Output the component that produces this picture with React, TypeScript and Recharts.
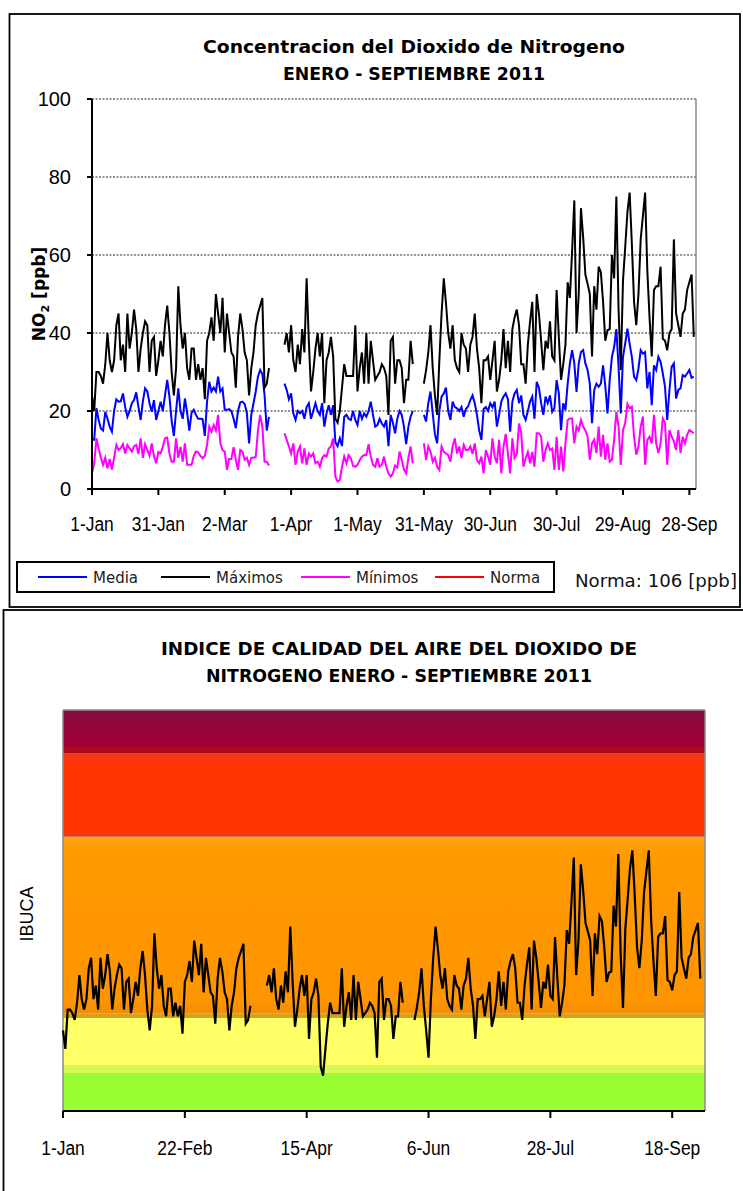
import React from "react";
import {
  LineChart, Line, XAxis, YAxis, CartesianGrid, ReferenceLine, ReferenceArea,
} from "recharts";

const _ = null;

// dias desde el 1-Jan (0..272)
const TOP_TICK_DAYS = [0, 30, 60, 90, 120, 150, 180, 210, 240, 270];
const TOP_TICK_LABELS = ["1-Jan", "31-Jan", "2-Mar", "1-Apr", "1-May", "31-May", "30-Jun", "30-Jul", "29-Aug", "28-Sep"];
const Y_TICKS = [0, 20, 40, 60, 80, 100];
const BOTTOM_TICK_DAYS = [0, 52, 104, 156, 208, 260];
const BOTTOM_TICK_LABELS = ["1-Jan", "22-Feb", "15-Apr", "6-Jun", "28-Jul", "18-Sep"];

const MEDIA = [
  12.6, 12.6, 20.7, 17.7, 15.5, 15, 19.8, 18, 16, 14.7,
  20, 23, 22.4, 22.5, 24.5, 21, 18.5, 20, 22, 22.8,
  24.8, 21, 17.7, 22.5, 25.8, 25, 22, 19.8, 22.8, 17.7,
  20, 22.4, 20, 24, 28, 23.7, 17.5, 13.6, 20, 25.8,
  20, 18, 23.2, 19.5, 15, 19.5, 20.3, 19, 18, 18,
  17.9, 13.6, 22.4, 27.5, 25, 26, 25, 28.8, 25, 25.8,
  20.3, 20.3, 20.5, 20, 18, 15.6, 20, 22.2, 22.4, 21.8,
  19.5, 11.7, 19, 22, 25, 28.8, 30.5, 29.5, 24, 15,
  18.5, _, _, _, _, _, _, 27, 25.4, 23,
  24.5, 19.4, 17.7, 20, 19.4, 20, 18, 21, 22, 18,
  20, 22, 20, 19, 22, 16, 19.4, 21.5, 19, 21.5,
  12, 11, 13, 11, 18.5, 19, 18, 17.7, 20, 17.7,
  16.4, 20, 18, 19.4, 18.5, 20, 22.4, 19, 16, 16.4,
  18, 16.8, 16, 17.7, 11, 19, 17, 14.3, 18, 20,
  19, 16, 11.5, 16, 18.5, 20, _, _, _, _,
  19, 17.3, 22, 25, 19.4, 14, 11.7, 20, 23.7, 24.5,
  26, 20, 17.7, 22.4, 21, 20.7, 20, 21, 18.5, 20.5,
  21.2, 22.8, 24, 22, 19, 15, 12.6, 20.5, 21, 20,
  22, 21, 22.4, 16, 19, 22.4, 23.7, 24.5, 23, 14.7,
  22.4, 24.5, 25.4, 22, 24, 19, 17.7, 20, 22.4, 23.7,
  18, 27.5, 26, 22, 19, 23.7, 22, 24, 19.8, 20.7,
  27.9, 24.5, 15.1, 22, 20.3, 27, 32.2, 35.6, 32.2, 24.9,
  32.2, 35.1, 35.6, 32.2, 30.5, 27, 16.9, 25.4, 27, 26.2,
  27, 31.7, 26.4, 19.4, 27.9, 33.9, 36.4, 41, 31.3, 19.4,
  33.9, 37.3, 41.1, 37.3, 33.9, 28.8, 27.9, 30.9, 35.6, 34.7,
  35.1, 25.8, 30, 21.5, 31.7, 30.5, 33.9, 32.6, 29.6, 26.2,
  17.7, 25.4, 31.3, 32.2, 23.2, 25.4, 25.8, 29.2, 28.8, 29.6,
  30.5, 28.5, 28.8,
];

const MAXIMOS = [
  24, 20, 30, 30, 29, 27, 32, 40, 33, 30,
  33, 42, 45, 33, 37, 30, 45, 36, 40, 46,
  41, 30, 36, 40, 43, 42, 30, 38, 39, 29,
  33, 38, 34, 42, 47, 40, 30, 24, 31, 52,
  42, 36, 40, 31, 28, 36, 36, 28, 32, 28,
  31, 23, 38, 40, 44, 38, 50, 45, 40, 49,
  35, 45, 40, 35, 34, 26, 39, 45, 41, 35,
  33, 24, 31, 35, 42, 45, 47, 49, 26, 27,
  31, _, _, _, _, _, _, 37, 40, 35,
  42, 33, 30, 37, 32, 41, 35, 54, 38, 25,
  30, 36, 40, 34, 40, 22, 33, 35, 39, 34,
  18, 17, 20, 26, 32, 29, 29, 29, 29, 42,
  25, 31, 35, 27, 40, 27, 38, 33, 28, 29,
  30, 32, 31, 29, 19, 38, 39, 27, 33, 33,
  31, 22, 28, 28, 38, 32, _, _, _, _,
  27, 30.5, 35, 42, 31, 24, 19, 33, 45, 54,
  47.6, 40, 36, 42, 33, 31, 30, 40, 37, 36,
  30, 37, 39, 45, 36, 31, 22, 33, 33, 34,
  28, 33, 38, 25, 28, 33, 41, 31, 38, 30,
  41, 44, 46, 42, 32, 32, 27, 37, 43, 48,
  30, 50, 45, 38, 30.5, 38, 36, 43, 34, 33,
  51, 39, 28, 32, 37, 53, 49, 61, 74, 40,
  50, 72, 64.5, 55, 52.6, 50, 34, 52, 46, 57,
  55.6, 48, 38, 40.7, 41, 60, 54, 75, 46, 30.5,
  53.4, 62, 71, 76, 63, 48, 42, 50, 64, 70,
  76, 56, 44, 34, 51, 52, 52, 57, 38.5, 38,
  35.6, 40, 41, 64, 45, 42, 39, 45, 46, 51,
  53, 55, 39,
];

const MINIMOS = [
  4, 6.6, 13, 10.4, 8, 6.2, 8, 5.3, 7.7, 5,
  8, 11.3, 10, 10.5, 11.5, 9.1, 11.3, 10.4, 9.6, 11,
  11.3, 9, 13, 8, 11.5, 10, 8.5, 11.7, 8.5, 6.6,
  9.5, 9.1, 10.8, 13, 13.2, 9.1, 7, 7, 13, 8,
  10.8, 7, 11.7, 6.2, 6.2, 6.2, 8.5, 9.6, 9.4, 8.5,
  7.9, 8.5, 11.3, 16, 14.7, 16.4, 15, 19, 11.7, 10,
  9.6, 4.9, 7.7, 7.7, 10.7, 7.5, 4.9, 10, 9.6, 7.5,
  8, 6.2, 8, 8, 8.2, 15, 19, 16, 7, 7,
  6, _, _, _, _, _, _, 14.3, 12.6, 10.9,
  9.1, 11.7, 6.2, 9.6, 10.9, 6.6, 10.4, 6.2, 9.1, 8.3,
  9.1, 6.6, 7, 5.7, 7.9, 8.7, 8.3, 10.4, 10.9, 13,
  3.2, 1.9, 2.3, 5.7, 8.3, 6.6, 8.7, 7.9, 5.9, 5.7,
  6.2, 7.4, 8.3, 8.7, 8.7, 11.5, 8.3, 6.2, 5.7, 7.9,
  5.7, 6.2, 8.3, 5.7, 4, 3.2, 4, 6, 5.5, 9.6,
  7.5, 5, 4, 8, 10.9, 6.6, _, _, _, _,
  11.7, 7.4, 10.9, 9.6, 7, 8, 5.7, 4.9, 10.9, 9.6,
  9.1, 8.7, 7, 10.9, 13, 9.1, 10.9, 7.9, 11.3, 10,
  10, 10.9, 9, 11.7, 7.4, 6.6, 8.3, 4, 10, 8.3,
  6.2, 13, 8.3, 6.6, 12.6, 4, 10.9, 14.1, 9, 4,
  13, 8, 9, 16.8, 14.3, 5.7, 7.9, 9.5, 6.6, 9.5,
  5.7, 14.3, 14.3, 13.4, 7, 10, 11.7, 10, 10.4, 4.9,
  13.4, 4.9, 10.9, 4.5, 11.7, 17.7, 18.1, 18.1, 11.7, 16,
  15, 17.7, 16, 15, 13.4, 7.5, 11.7, 12.6, 9.2, 16,
  8.3, 13.9, 7.5, 11.7, 7, 7.5, 12.6, 19.8, 16, 6.2,
  15.1, 16.9, 21.8, 20.7, 21.1, 13.4, 8.8, 10.9, 16, 18.6,
  6.2, 12.6, 13.4, 11.7, 19, 11.7, 9.2, 11.7, 18.1, 16.9,
  6.2, 15.1, 13.4, 12.2, 10, 15.1, 9.2, 13.4, 11.7, 13.9,
  15.1, 14.7, 14.3,
];

// IBUCA diario (escala del grafico inferior, 0..100 de alto)
const IBUCA = [
  20.1, 15.5, 25.3, 25.3, 24.4, 22.7, 27.0, 33.9, 27.9, 25.3,
  27.9, 35.6, 38.2, 27.9, 31.3, 25.3, 38.2, 30.5, 33.9, 39.1,
  34.8, 25.3, 30.5, 33.9, 36.5, 35.6, 25.3, 32.2, 33.0, 24.4,
  27.9, 32.2, 28.7, 35.6, 39.9, 33.9, 25.3, 20.1, 26.2, 44.3,
  35.6, 30.5, 33.9, 26.2, 23.6, 30.5, 30.5, 23.6, 27.0, 23.6,
  26.2, 19.3, 32.2, 33.9, 37.4, 32.2, 42.5, 38.2, 33.9, 41.7,
  29.6, 38.2, 33.9, 29.6, 28.7, 21.8, 33.0, 38.2, 34.8, 29.6,
  27.9, 20.1, 26.2, 29.6, 35.6, 38.2, 39.9, 41.7, 21.8, 22.7,
  26.2, _, _, _, _, _, _, 31.3, 33.9, 29.6,
  35.6, 27.9, 25.3, 31.3, 27.0, 34.8, 29.6, 46.0, 32.2, 21.0,
  25.3, 30.5, 33.9, 28.7, 33.9, 18.0, 27.9, 29.6, 33.0, 28.7,
  11.0, 8.8, 15.5, 21.8, 27.0, 24.4, 24.4, 24.4, 24.4, 35.6,
  21.0, 26.2, 29.6, 22.7, 33.9, 22.7, 32.2, 27.9, 23.6, 24.4,
  25.3, 27.0, 26.2, 24.4, 13.3, 32.2, 33.0, 22.7, 27.9, 27.9,
  26.2, 18.0, 23.6, 23.6, 32.2, 27.0, _, _, _, _,
  22.7, 25.7, 29.6, 35.6, 26.2, 20.1, 13.3, 27.9, 38.2, 46.0,
  40.4, 33.9, 30.5, 35.6, 27.9, 26.2, 25.3, 33.9, 31.3, 30.5,
  25.3, 31.3, 33.0, 38.2, 30.5, 26.2, 18.0, 27.9, 27.9, 28.7,
  23.6, 27.9, 32.2, 21.0, 23.6, 27.9, 34.8, 26.2, 32.2, 25.3,
  34.8, 37.4, 39.1, 35.6, 27.0, 27.0, 22.7, 31.3, 36.5, 40.8,
  25.3, 42.5, 38.2, 32.2, 25.7, 32.2, 30.5, 36.5, 28.7, 27.9,
  43.4, 33.0, 23.6, 27.0, 31.3, 45.1, 41.7, 52.0, 63.2, 33.9,
  42.5, 61.5, 55.0, 46.9, 44.8, 42.5, 28.7, 44.3, 39.1, 48.6,
  47.4, 40.8, 32.2, 34.5, 34.8, 51.2, 46.0, 64.1, 39.1, 25.7,
  45.5, 52.9, 60.6, 65.0, 53.7, 40.8, 35.6, 42.5, 54.6, 59.8,
  65.0, 47.7, 37.4, 28.7, 43.4, 44.3, 44.3, 48.6, 32.6, 32.2,
  30.1, 33.9, 34.8, 54.6, 38.2, 35.6, 33.0, 38.2, 39.1, 43.4,
  45.1, 46.9, 33.0,
];

// franjas de calidad del aire (de abajo hacia arriba)
const BAND_LIMITS = [0, 9.5, 11.5, 23.2, 24.4, 68.4, 69.3, 89.3, 90.8, 100];
const BAND_FILLS = ["#99FF33", "#D6F955", "#FFFF66", "#D8A020", "url(#orangeGrad)", "#D94412", "url(#redGrad)", "#AE0A1A", "url(#maroonGrad)"];

const LEGEND_NAMES = ["Media", "Máximos", "Mínimos", "Norma"];
const LEGEND_COLORS = ["#0000FF", "#000000", "#FF00FF", "#FF0000"];
const LEGEND_X = [38, 161, 301, 435];

const topRows = MEDIA.map((m, i) => ({ day: i, media: m, maximos: MAXIMOS[i], minimos: MINIMOS[i] }));
const bottomRows = IBUCA.map((v, i) => ({ day: i, ibuca: v }));

const TICK_FONT = "'Liberation Sans', Arial, sans-serif";
const GOTHIC = "'DejaVu Sans', Verdana, sans-serif";

const makeXTick = (days: number[], labels: string[]) => (props: any) => {
  const { x, y, payload } = props;
  const idx = days.indexOf(payload.value);
  return (
    <g transform={`translate(${x},${y}) scale(0.87,1)`}>
      <text x={0} y={0} dy="0.71em" textAnchor="middle" fontSize={20} fontFamily={TICK_FONT} fill="#000">
        {labels[idx]}
      </text>
    </g>
  );
};

const renderYTick = (props: any) => {
  const { x, y, payload } = props;
  return (
    <text x={x} y={y} dy="0.355em" textAnchor="end" fontSize={20} fontFamily={TICK_FONT} fill="#000">
      {payload.value}
    </text>
  );
};

function TopChart() {
  return (
    <LineChart width={743} height={610} data={topRows} margin={{ top: 99, right: 47, bottom: 81, left: 32 }}>
      <CartesianGrid vertical={false} stroke="#6f6f6f" strokeDasharray="2 1.5" strokeWidth={1.3} />
      <XAxis
        type="number" dataKey="day" domain={[0, 273]} ticks={TOP_TICK_DAYS} interval={0}
        height={40} tickSize={6} tickMargin={22}
        axisLine={{ stroke: "#000", strokeWidth: 2 }} tickLine={{ stroke: "#000", strokeWidth: 2 }}
        tick={makeXTick(TOP_TICK_DAYS, TOP_TICK_LABELS)}
      />
      <YAxis
        domain={[0, 100]} ticks={Y_TICKS} interval={0} width={60} tickSize={5} tickMargin={16}
        axisLine={{ stroke: "#000", strokeWidth: 2 }} tickLine={{ stroke: "#000", strokeWidth: 2 }}
        tick={renderYTick}
      />
      <ReferenceLine x={273} stroke="#8a8a8a" strokeWidth={1.5} />
      <Line type="linear" dataKey="media" stroke="#0000FF" strokeWidth={2} dot={false} isAnimationActive={false} />
      <Line type="linear" dataKey="maximos" stroke="#000000" strokeWidth={2} dot={false} isAnimationActive={false} />
      <Line type="linear" dataKey="minimos" stroke="#FF00FF" strokeWidth={2} dot={false} isAnimationActive={false} />
    </LineChart>
  );
}

function BottomChart() {
  return (
    <LineChart width={743} height={591} data={bottomRows} margin={{ top: 110, right: 38, bottom: 40, left: 63 }}>
      <defs>
        <linearGradient id="maroonGrad" x1="0" y1="0" x2="0" y2="1">
          <stop offset="0" stopColor="#870C40" />
          <stop offset="1" stopColor="#A20036" />
        </linearGradient>
        <linearGradient id="redGrad" x1="0" y1="0" x2="0" y2="1">
          <stop offset="0" stopColor="#F23A1C" />
          <stop offset="0.15" stopColor="#FF3300" />
          <stop offset="1" stopColor="#FF3300" />
        </linearGradient>
        <linearGradient id="orangeGrad" x1="0" y1="0" x2="0" y2="1">
          <stop offset="0" stopColor="#FFA216" />
          <stop offset="0.1" stopColor="#FF9A00" />
          <stop offset="0.93" stopColor="#FF9500" />
          <stop offset="1" stopColor="#F08E08" />
        </linearGradient>
      </defs>
      {BAND_FILLS.map((fill, i) => (
        <ReferenceArea key={i} y1={BAND_LIMITS[i]} y2={BAND_LIMITS[i + 1]} fill={fill} fillOpacity={1} stroke="none" />
      ))}
      <XAxis
        type="number" dataKey="day" domain={[0, 274]} ticks={BOTTOM_TICK_DAYS} interval={0}
        height={40} tickSize={7} tickMargin={23}
        axisLine={{ stroke: "#000", strokeWidth: 2 }} tickLine={{ stroke: "#000", strokeWidth: 2 }}
        tick={makeXTick(BOTTOM_TICK_DAYS, BOTTOM_TICK_LABELS)}
      />
      <YAxis hide domain={[0, 100]} />
      <ReferenceLine x={0} stroke="#8a8a8a" strokeWidth={1.5} />
      <ReferenceLine x={274} stroke="#8a8a8a" strokeWidth={1.5} />
      <ReferenceLine y={100} stroke="#8a8a8a" strokeWidth={1.5} />
      <Line type="linear" dataKey="ibuca" stroke="#000000" strokeWidth={2.2} dot={false} isAnimationActive={false} />
    </LineChart>
  );
}

function Overlay() {
  return (
    <svg width={743} height={1191} style={{ position: "absolute", left: 0, top: 0, pointerEvents: "none" }}>
      <rect x={9.5} y={14} width={730.5} height={593} fill="none" stroke="#000" strokeWidth={1.8} />
      <rect x={3.5} y={610} width={745} height={590} fill="none" stroke="#000" strokeWidth={1.8} />

      <text x={414} y={53} textAnchor="middle" fontFamily={GOTHIC} fontWeight="bold" fontSize={18}
        textLength={422} lengthAdjust="spacingAndGlyphs">Concentracion del Dioxido de Nitrogeno</text>
      <text x={414} y={80} textAnchor="middle" fontFamily={GOTHIC} fontWeight="bold" fontSize={18}
        textLength={262} lengthAdjust="spacingAndGlyphs">ENERO - SEPTIEMBRE  2011</text>

      <text transform="translate(45,294) rotate(-90)" textAnchor="middle" fontFamily={GOTHIC} fontWeight="bold" fontSize={17}>
        NO<tspan fontSize={11} dy={4}>2</tspan><tspan dy={-4}> [ppb]</tspan>
      </text>

      <rect x={17} y={562} width={537} height={30} fill="#fff" stroke="#000" strokeWidth={2} />
      {LEGEND_NAMES.map((name, i) => (
        <g key={name}>
          <line x1={LEGEND_X[i]} x2={LEGEND_X[i] + 49} y1={577} y2={577} stroke={LEGEND_COLORS[i]} strokeWidth={2} />
          <text x={LEGEND_X[i] + 55} y={582.5} fontFamily={GOTHIC} fontSize={15} fill="#222">{name}</text>
        </g>
      ))}
      <text x={575} y={587} fontFamily={GOTHIC} fontSize={17} fill="#111"
        textLength={162} lengthAdjust="spacingAndGlyphs">Norma: 106 [ppb]</text>

      <text x={399} y={655} textAnchor="middle" fontFamily={GOTHIC} fontWeight="bold" fontSize={18}
        textLength={476} lengthAdjust="spacingAndGlyphs">INDICE DE CALIDAD DEL AIRE  DEL DIOXIDO DE</text>
      <text x={399} y={682} textAnchor="middle" fontFamily={GOTHIC} fontWeight="bold" fontSize={18}
        textLength={386} lengthAdjust="spacingAndGlyphs">NITROGENO  ENERO - SEPTIEMBRE 2011</text>

      <text transform="translate(33,914) rotate(-90)" textAnchor="middle" fontFamily={TICK_FONT} fontSize={18} fill="#000">IBUCA</text>
    </svg>
  );
}

export default function App() {
  return (
    <div style={{ position: "relative", width: 743, height: 1191, background: "#fff", overflow: "hidden" }}>
      <style>{"body{margin:0}"}</style>
      <div style={{ position: "absolute", left: 0, top: 0 }}>
        <TopChart />
      </div>
      <div style={{ position: "absolute", left: 0, top: 600 }}>
        <BottomChart />
      </div>
      <Overlay />
    </div>
  );
}
